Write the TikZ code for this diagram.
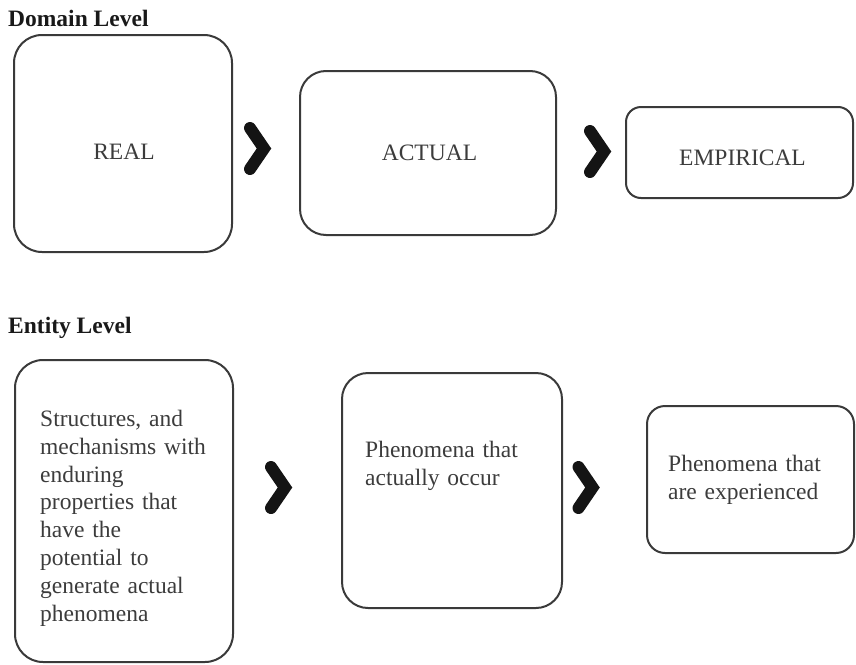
\documentclass[tikz,border=0pt]{standalone}
\usepackage{fontspec}
\setmainfont{Liberation Serif}
\begin{document}
\begin{tikzpicture}[x=1pt,y=-1pt,
  box/.style={draw=boxgray, line width=2pt, rounded corners=#1, inner sep=0pt},
  box/.default=26pt,
  title/.style={anchor=base west, inner sep=0pt, font=\bfseries\fontsize{23.5}{27}\selectfont, text=black!90},
  label/.style={anchor=base, inner sep=0pt, font=\fontsize{23.5}{27.8}\selectfont, text=txtgray},
  para/.style={anchor=north west, inner sep=0pt, align=left, text width=#1, font=\fontsize{23.5}{27.8}\selectfont, text=txtgray},
  chevron/.pic={\draw[line width=12pt, line join=miter, line cap=round, draw=black!92] (-9,-20.5) -- (5,0) -- (-9,20.5);}
]
\definecolor{boxgray}{HTML}{3A3A3A}
\definecolor{txtgray}{HTML}{3C3C3C}
\useasboundingbox (0,0) rectangle (856,664);

% Domain level
\node[title] (dtitle) at (8,26) {Domain Level};
\node[box=28pt, minimum width=218pt, minimum height=217pt] (real) at (123,143.5) {};
\node[box=26pt, minimum width=256pt, minimum height=164pt] (actual) at (428,153) {};
\node[box=15pt, minimum width=227pt, minimum height=91pt] (empirical) at (739.5,152.5) {};
\node[label] (realtxt) at (124,159) {REAL};
\node[label] (actualtxt) at (429.5,160) {ACTUAL};
\node[label] (empiricaltxt) at (742.5,165) {EMPIRICAL};
\coordinate (c1) at (259,148.5);
\coordinate (c2) at (599,151.5);
\pic at (c1) {chevron};
\pic at (c2) {chevron};

% Entity level
\node[title] (etitle) at (8,333) {Entity Level};
\node[box=28pt, minimum width=218pt, minimum height=302pt] (struct) at (124,511) {};
\node[box=26pt, minimum width=220pt, minimum height=235pt] (occur) at (452,490.5) {};
\node[box=18pt, minimum width=207pt, minimum height=147pt] (exper) at (750.5,479.5) {};
\node[para=185pt] (structtxt) at (40,410) {Structures, and\\mechanisms with\\enduring\\properties that\\have the\\potential to\\generate actual\\phenomena};
\node[para=185pt] (occurtxt) at (365,441) {Phenomena that\\actually occur};
\node[para=185pt] (expertxt) at (668,455) {Phenomena that\\are experienced};
\coordinate (c3) at (280,487.5);
\coordinate (c4) at (587.5,487.5);
\pic at (c3) {chevron};
\pic at (c4) {chevron};
\end{tikzpicture}
\end{document}
